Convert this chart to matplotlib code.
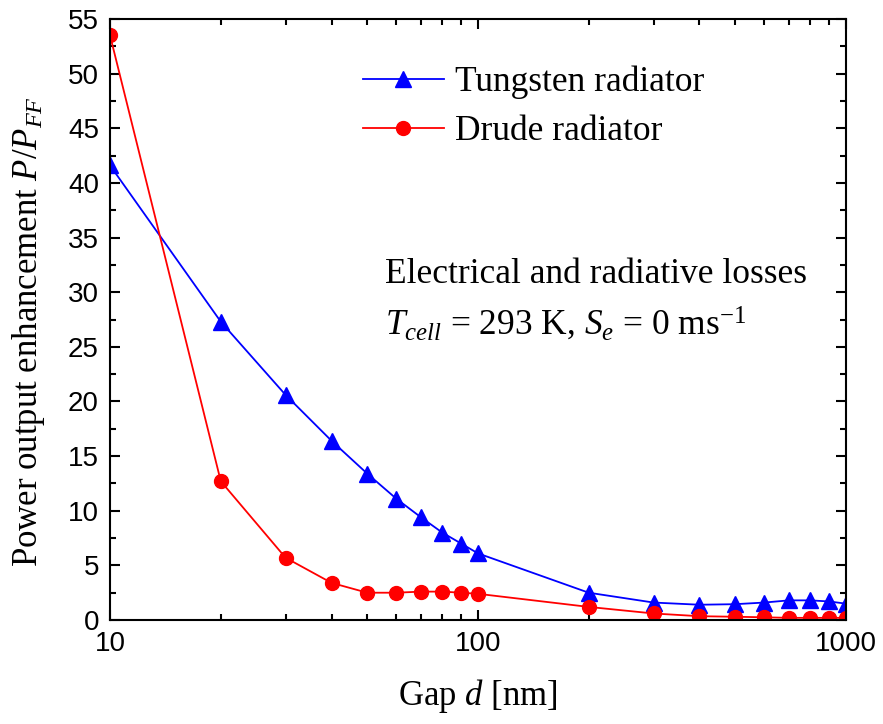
import matplotlib
matplotlib.use("Agg")
import matplotlib.pyplot as plt
from matplotlib.ticker import LogLocator, MultipleLocator, FixedLocator, FixedFormatter, NullFormatter

plt.rcParams['mathtext.fontset'] = 'custom'
plt.rcParams['mathtext.rm'] = 'Liberation Serif'
plt.rcParams['mathtext.it'] = 'Liberation Serif:italic'
plt.rcParams['mathtext.bf'] = 'Liberation Serif:bold'

gap = [10, 20, 30, 40, 50, 60, 70, 80, 90, 100, 200, 300, 400, 500, 600, 700, 800, 900, 1000]
tungsten = [41.6, 27.3, 20.6, 16.4, 13.4, 11.1, 9.4, 8.0, 7.0, 6.1, 2.5, 1.6, 1.4, 1.45, 1.6, 1.8, 1.8, 1.7, 1.5]
drude = [53.5, 12.7, 5.7, 3.4, 2.5, 2.5, 2.6, 2.6, 2.5, 2.4, 1.2, 0.6, 0.35, 0.3, 0.25, 0.2, 0.2, 0.2, 0.2]
xticks = [10, 100, 1000]
xticklabels = ['10', '100', '1000']

fig = plt.figure(figsize=(8.83, 7.24), dpi=100)
ax = fig.add_axes([0.1246, 0.1436, 0.8334, 0.8302])

ax.plot(gap, tungsten, color='blue', marker='^', markersize=11, linewidth=1.3,
        label='Tungsten radiator')
ax.plot(gap, drude, color='red', marker='o', markersize=10, linewidth=1.3,
        label='Drude radiator')

ax.set_xscale('log')
ax.set_xlim(10, 1000)
ax.set_ylim(0, 55)

ax.xaxis.set_major_locator(FixedLocator(xticks))
ax.xaxis.set_major_formatter(FixedFormatter(xticklabels))
ax.xaxis.set_minor_locator(LogLocator(base=10, subs=range(2, 10)))
ax.xaxis.set_minor_formatter(NullFormatter())
ax.yaxis.set_major_locator(MultipleLocator(5))
ax.yaxis.set_minor_locator(MultipleLocator(2.5))

ax.tick_params(which='both', direction='in', top=True, right=True, width=1.5)
ax.tick_params(which='major', length=7, labelsize=20, pad=8)
ax.tick_params(which='minor', length=4)
for lab in ax.get_xticklabels() + ax.get_yticklabels():
    lab.set_fontfamily('Liberation Sans')
for s in ax.spines.values():
    s.set_linewidth(1.5)

ax.set_xlabel('Gap $d$ [nm]', fontsize=25, fontfamily='Liberation Serif', labelpad=14)
ax.set_ylabel('Power output enhancement $P/P_{FF}$', fontsize=25,
              fontfamily='Liberation Serif')
ax.yaxis.set_label_coords(-0.085, 0.48)

leg = ax.legend(loc='upper left', bbox_to_anchor=(0.3, 0.975), frameon=False,
                prop={'family': 'Liberation Serif', 'size': 25.5},
                handlelength=2.3, handletextpad=0.3, labelspacing=0.45)

ax.text(0.373, 0.56, 'Electrical and radiative losses', transform=ax.transAxes,
        fontsize=25.5, fontfamily='Liberation Serif', va='baseline')
ax.text(0.373, 0.475, '$T_{cell}$ = 293 K, $S_e$ = 0 ms$^{-1}$', transform=ax.transAxes,
        fontsize=25.5, fontfamily='Liberation Serif', va='baseline')

fig.savefig('out.png', dpi=100)
